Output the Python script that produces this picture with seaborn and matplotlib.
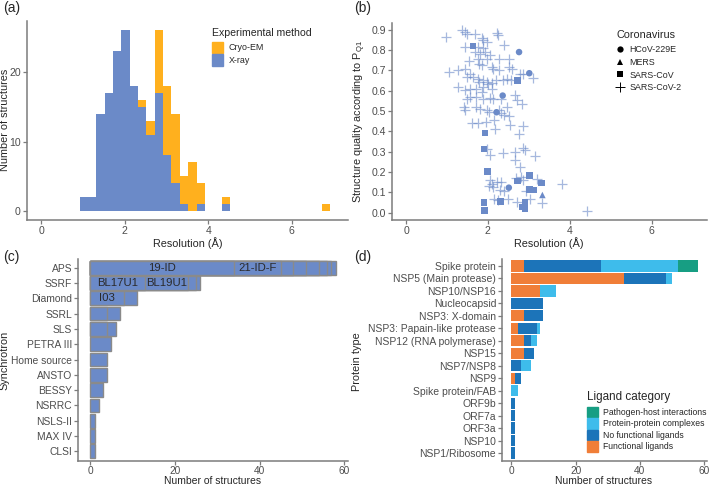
import numpy as np
import pandas as pd
import matplotlib
matplotlib.use("Agg")
import matplotlib.pyplot as plt
import seaborn as sns
from matplotlib.patches import Patch
from matplotlib.lines import Line2D

# ---------------- Panel (a): resolution histogram ----------------
bin_start = 0.92
bin_width = 0.2
n_bins = 30
res_bin_centers = [1.02, 1.22, 1.42, 1.62, 1.82, 2.02, 2.22, 2.42, 2.62, 2.82,
                   3.02, 3.22, 3.42, 3.62, 3.82, 4.42, 6.82]
xray_counts = [2, 2, 14, 17, 23, 26, 18, 15, 11, 17, 8, 4, 1, 0, 1, 1, 0]
cryo_counts = [0, 0, 0, 0, 0, 0, 0, 1, 2, 9, 10, 10, 4, 7, 3, 1, 1]
methods = ["Cryo-EM", "X-ray"]

# ---------------- Panel (b): quality vs resolution ----------------
viruses = ["HCoV-229E", "MERS", "SARS-CoV", "SARS-CoV-2"]
hcov_res = [2.76, 3.01, 2.36, 2.21, 2.51]
hcov_q = [0.79, 0.686, 0.576, 0.494, 0.123]
mers_res = [3.33]
mers_q = [0.087]
sarscov_res = [1.63, 2.72, 1.93, 1.90, 1.99, 3.01, 2.72, 3.31, 3.01, 3.11,
               1.91, 2.31, 2.91, 2.83, 2.91, 1.92]
sarscov_q = [0.82, 0.65, 0.393, 0.314, 0.203, 0.183, 0.155, 0.146, 0.113, 0.111,
             0.051, 0.056, 0.049, 0.029, 0.021, 0.011]
sars2_res = [0.97, 1.36, 1.44, 1.50, 1.68, 1.85, 1.89, 1.97, 2.21, 2.25, 2.39, 1.75,
             1.89, 1.44, 1.68, 1.80, 1.93, 2.05, 1.76, 1.97, 2.28, 2.52, 1.53, 1.77,
             1.85, 2.10, 2.13, 2.27, 2.52, 2.58, 1.06, 1.28, 1.44, 1.48, 1.56, 1.64,
             1.76, 1.79, 1.89, 1.97, 2.01, 2.09, 2.19, 2.36, 2.46, 2.56, 2.79, 2.85,
             3.11, 1.28, 1.44, 1.56, 1.72, 1.85, 1.89, 2.09, 1.48, 1.56, 1.72, 1.87,
             2.05, 2.13, 2.31, 2.67, 2.70, 2.83, 1.41, 1.44, 1.71, 1.80, 1.97, 2.03,
             2.26, 2.46, 2.33, 2.39, 2.52, 1.60, 1.76, 1.95, 2.15, 2.54, 2.86, 2.17,
             2.76, 1.98, 2.05, 2.37, 2.66, 2.86, 2.90, 3.15, 2.66, 2.78, 2.05, 2.21,
             2.33, 2.09, 2.02, 2.13, 2.29, 2.40, 2.68, 2.80, 2.86, 3.19, 2.94, 3.81,
             2.15, 2.24, 2.50, 2.70, 3.02, 3.31, 4.41]
sars2_q = [0.864, 0.900, 0.889, 0.881, 0.881, 0.861, 0.848, 0.840, 0.884, 0.872, 0.827,
           0.815, 0.810, 0.815, 0.791, 0.782, 0.791, 0.774, 0.758, 0.758, 0.758, 0.758,
           0.745, 0.733, 0.725, 0.717, 0.709, 0.700, 0.717, 0.709, 0.692, 0.700, 0.709,
           0.668, 0.684, 0.668, 0.660, 0.643, 0.651, 0.643, 0.635, 0.638, 0.651, 0.655,
           0.656, 0.655, 0.681, 0.684, 0.661, 0.619, 0.602, 0.610, 0.610, 0.594, 0.619,
           0.610, 0.561, 0.570, 0.570, 0.561, 0.565, 0.558, 0.561, 0.581, 0.553, 0.537,
           0.520, 0.504, 0.520, 0.512, 0.504, 0.496, 0.507, 0.520, 0.488, 0.480, 0.476,
           0.439, 0.442, 0.447, 0.458, 0.430, 0.426, 0.414, 0.386, 0.311, 0.283, 0.295,
           0.300, 0.316, 0.308, 0.278, 0.259, 0.226, 0.160, 0.152, 0.152, 0.141, 0.131,
           0.128, 0.111, 0.106, 0.172, 0.177, 0.160, 0.164, 0.108, 0.142, 0.065, 0.062,
           0.065, 0.054, 0.065, 0.049, 0.010]

# ---------------- Panel (c): synchrotrons ----------------
synchrotrons = ["APS", "SSRF", "Diamond", "SSRL", "SLS", "PETRA III", "Home source",
                "ANSTO", "BESSY", "NSRRC", "NSLS-II", "MAX IV", "CLSI"]
beamline_counts = [[34, 11, 3, 3, 3, 2, 1, 1], [13, 10, 2, 1], [8, 3], [4, 3], [4, 2],
                   [5], [4], [4], [3], [2], [1], [1], [1]]
beamline_labels = [["19-ID", "21-ID-F", "", "", "", "", "", ""],
                   ["BL17U1", "BL19U1", "", ""], ["I03", ""], ["", ""], ["", ""],
                   [""], [""], [""], [""], [""], [""], [""], [""]]

# ---------------- Panel (d): protein types ----------------
protein_types = ["Spike protein", "NSP5 (Main protease)", "NSP10/NSP16", "Nucleocapsid",
                 "NSP3: X-domain", "NSP3: Papain-like protease", "NSP12 (RNA polymerase)",
                 "NSP15", "NSP7/NSP8", "NSP9", "Spike protein/FAB", "ORF9b", "ORF7a",
                 "ORF3a", "NSP10", "NSP1/Ribosome"]
functional_ligands = [4, 35, 9, 0, 4, 2, 4, 4, 0, 1, 0, 0, 0, 0, 0, 0]
no_functional_ligands = [24, 13, 0, 10, 6, 6, 2, 3, 3, 2, 0, 1, 1, 1, 1, 1]
protein_complexes = [24, 2, 5, 0, 0, 1, 2, 0, 3, 0, 2, 0, 0, 0, 0, 0]
pathogen_host = [6, 0, 0, 0, 0, 0, 0, 0, 0, 0, 0, 0, 0, 0, 0, 0]
ligand_categories = ["Functional ligands", "No functional ligands",
                     "Protein-protein complexes", "Pathogen-host interactions"]

# ---------------- style ----------------
BLUE = "#6B8AC8"
ORANGE = "#FFB01E"
LIG_COLORS = ["#F07E38", "#1C74B9", "#3EBCEB", "#179E83"]
AX_GRAY = "#7c7c7c"
TICK_TXT = "#4d4d4d"

sns.set_theme(style="ticks")
plt.rcParams["font.family"] = ["Liberation Sans", "DejaVu Sans"]

W, H = 709, 487
fig = plt.figure(figsize=(W / 100, H / 100), dpi=100)


def rect(l, t, r, b):
    return [l / W, 1 - b / H, (r - l) / W, (b - t) / H]


def ftext(x, y, s, **kw):
    fig.text(x / W, 1 - y / H, s, **kw)


def style_ax(ax, ylabsize=7.6, xlabsize=7.6, pad=1.2):
    sns.despine(ax=ax)
    for sp in ("left", "bottom"):
        ax.spines[sp].set_color(AX_GRAY)
        ax.spines[sp].set_linewidth(1.1)
    ax.tick_params(length=3, width=0.9, color=AX_GRAY, labelsize=7.6,
                   labelcolor=TICK_TXT, pad=1.2)
    ax.tick_params(axis="y", labelsize=ylabsize)
    ax.tick_params(axis="x", labelsize=xlabsize, pad=pad, length=2.8)
    ax.set_xlabel("")
    ax.set_ylabel("")


FS_TITLE = 7.8

# ---- (a)
axa = fig.add_axes(rect(26.7, 20.7, 348, 220))
hist_df = pd.DataFrame({
    "res": res_bin_centers * 2,
    "count": xray_counts + cryo_counts,
    "method": ["X-ray"] * len(xray_counts) + ["Cryo-EM"] * len(cryo_counts),
})
sns.histplot(data=hist_df, x="res", weights="count", hue="method", hue_order=methods,
             multiple="stack", binwidth=bin_width,
             binrange=(bin_start, bin_start + bin_width * n_bins),
             palette={"Cryo-EM": ORANGE, "X-ray": BLUE},
             alpha=1, linewidth=0, legend=False, ax=axa)
axa.set_xlim(-0.35, 7.35)
axa.set_ylim(-1.3, 27.4)
axa.set_xticks([0, 2, 4, 6])
axa.set_yticks([0, 10, 20])
style_ax(axa)
leg = axa.legend(handles=[Patch(color=ORANGE, label="Cryo-EM"), Patch(color=BLUE, label="X-ray")],
                 title="Experimental method", loc="upper left", bbox_to_anchor=(0.578, 0.965),
                 frameon=False, fontsize=6.4, title_fontsize=7.6, handlelength=1.2,
                 handleheight=1.6, labelspacing=0.12, handletextpad=0.6, borderpad=0,
                 borderaxespad=0)
leg._legend_box.align = "left"
leg._legend_box.sep = 3

# ---- (b)
axb = fig.add_axes(rect(391.7, 23, 707, 220))
filled_df = pd.DataFrame({
    "res": hcov_res + mers_res + sarscov_res,
    "q": hcov_q + mers_q + sarscov_q,
    "virus": [viruses[0]] * len(hcov_res) + [viruses[1]] * len(mers_res)
             + [viruses[2]] * len(sarscov_res),
})
sns.scatterplot(data=filled_df, x="res", y="q", style="virus",
                markers={viruses[0]: "o", viruses[1]: "^", viruses[2]: "s"},
                color=BLUE, s=22, linewidth=0, alpha=1, legend=False, ax=axb)
plus_df = pd.DataFrame({"res": sars2_res, "q": sars2_q})
sns.scatterplot(data=plus_df, x="res", y="q", marker="+", color=BLUE, s=55,
                linewidth=0.9, alpha=0.6, legend=False, ax=axb)
axb.set_xlim(-0.35, 7.35)
axb.set_ylim(-0.036, 0.933)
axb.set_xticks([0, 2, 4, 6])
axb.set_yticks(np.arange(0, 0.91, 0.1))
axb.set_yticklabels([f"{v:.1f}" for v in np.arange(0, 0.91, 0.1)])
style_ax(axb)
mk = ["o", "^", "s", "+"]
handles_b = [Line2D([], [], marker=m, color="black", linestyle="none",
                    markersize=4.5 if m != "+" else 6.5,
                    markeredgewidth=0 if m != "+" else 0.7,
                    label=v) for m, v in zip(mk, viruses)]
leg = axb.legend(handles=handles_b, title="Coronavirus", loc="upper left",
                 bbox_to_anchor=(0.712, 0.965), frameon=False, fontsize=6.4,
                 title_fontsize=7.8, handlelength=0.9, labelspacing=0.4,
                 handletextpad=0.6, borderpad=0, borderaxespad=0)
leg._legend_box.align = "left"
leg._legend_box.sep = 4

# ---- (c)
BOT = 460.5
axc = fig.add_axes(rect(78, 258.5, 348, BOT))
max_seg = max(len(s) for s in beamline_counts)
for k in range(max_seg - 1, -1, -1):
    rows = [(syn, float(np.sum(seg[:k + 1])))
            for syn, seg in zip(synchrotrons, beamline_counts) if len(seg) > k]
    df = pd.DataFrame(rows, columns=["syn", "n"])
    sns.barplot(data=df, x="n", y="syn", order=synchrotrons, orient="h", color=BLUE,
                saturation=1, edgecolor="#8a8a8a", linewidth=1.0, width=0.9,
                errorbar=None, ax=axc)
for i, (seg, labs) in enumerate(zip(beamline_counts, beamline_labels)):
    start = 0
    for c, lab in zip(seg, labs):
        if lab:
            axc.text(start + c / 2, i, lab, ha="center", va="center", fontsize=8.2,
                     color="#2a2a2a")
        start += c
axc.set_xlim(-2.9, 60.9)
axc.set_ylim(len(synchrotrons) - 0.4, -0.6)
axc.set_xticks([0, 20, 40, 60])
style_ax(axc, ylabsize=7.4, xlabsize=7.3, pad=1.0)

# ---- (d)
axd = fig.add_axes(rect(502, 258.5, 707, BOT))
layers = [functional_ligands, no_functional_ligands, protein_complexes, pathogen_host]
cum = np.cumsum(np.array(layers, dtype=float), axis=0)
for k in range(len(layers) - 1, -1, -1):
    df = pd.DataFrame({"prot": protein_types, "n": cum[k]})
    sns.barplot(data=df, x="n", y="prot", order=protein_types, orient="h",
                color=LIG_COLORS[k], saturation=1, linewidth=0, width=0.9,
                errorbar=None, ax=axd)
axd.set_xlim(-2.9, 60.9)
axd.set_ylim(len(protein_types) - 0.4, -0.6)
axd.set_xticks([0, 20, 40, 60])
style_ax(axd, ylabsize=7.5, xlabsize=7.3, pad=1.0)
handles_d = [Patch(color=LIG_COLORS[k], label=ligand_categories[k]) for k in (3, 2, 1, 0)]
leg = axd.legend(handles=handles_d, title="Ligand category", loc="upper left",
                 bbox_to_anchor=(0.414, 0.345), frameon=False, fontsize=6.2,
                 title_fontsize=8.4, handlelength=1.25, handleheight=1.5,
                 labelspacing=0.1, handletextpad=0.6, borderpad=0, borderaxespad=0)
leg._legend_box.align = "left"
leg._legend_box.sep = 3

# ---- titles & panel labels
ftext(3, 8, "(a)", fontsize=10, va="center", ha="left")
ftext(354, 8, "(b)", fontsize=10, va="center", ha="left")
ftext(3, 257, "(c)", fontsize=10, va="center", ha="left")
ftext(354, 257, "(d)", fontsize=10, va="center", ha="left")

ftext(187.5, 243, "Resolution (Å)", fontsize=FS_TITLE, ha="center", va="center")
ftext(549, 243, "Resolution (Å)", fontsize=FS_TITLE, ha="center", va="center")
ftext(213, 480.8, "Number of structures", fontsize=7.5, ha="center", va="center")
ftext(604, 480.8, "Number of structures", fontsize=7.5, ha="center", va="center")
ftext(5, 120, "Number of structures", fontsize=FS_TITLE, ha="center", va="center", rotation=90)
ftext(360, 121, "Structure quality according to P$_{\\mathregular{Q1}}$", fontsize=FS_TITLE,
      ha="center", va="center", rotation=90)
ftext(4.5, 360, "Synchrotron", fontsize=FS_TITLE, ha="center", va="center", rotation=90)
ftext(357, 362, "Protein type", fontsize=FS_TITLE, ha="center", va="center", rotation=90)

fig.savefig("out.png", dpi=100)
